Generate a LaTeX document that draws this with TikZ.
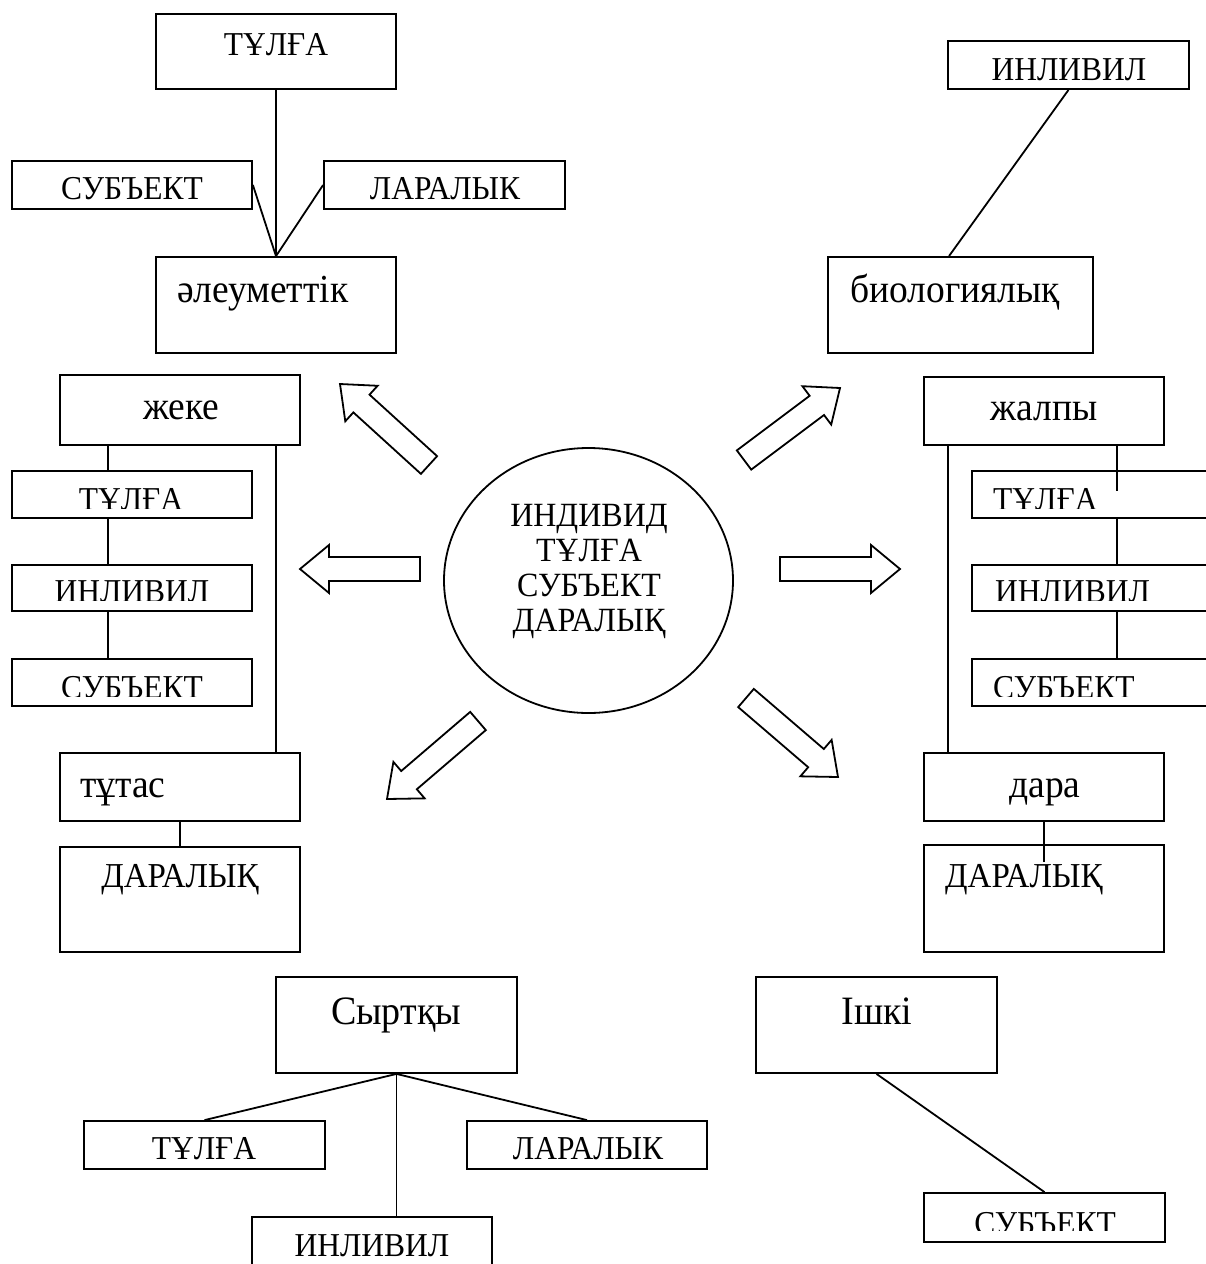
\documentclass[tikz,border=0pt]{standalone}
\usepackage{fontspec}
\usepackage{graphicx}
\setmainfont{Liberation Serif}
\usetikzlibrary{shapes.geometric,calc}
\newcommand{\tx}[1]{\scalebox{1}[1.06]{#1}}
\tikzset{
  box/.style={draw, line width=1.8pt, inner sep=0pt, rectangle},
  lbl/.style={inner sep=0pt, anchor=base, font=\fontsize{31.5}{38}\selectfont},
  caplbl/.style={inner sep=0pt, anchor=base, font=\fontsize{33}{40}\selectfont},
  ctrlbl/.style={inner sep=0pt, anchor=base, font=\fontsize{32}{40}\selectfont},
  lowlbl/.style={inner sep=0pt, anchor=base, font=\fontsize{37.5}{45}\selectfont},
  hugelbl/.style={inner sep=0pt, anchor=base, font=\fontsize{38}{46}\selectfont},
  conn/.style={line width=1.8pt},
  blk/.style={draw, line width=1.8pt, fill=white, line join=miter}
}
\newcommand{\blockarr}[2]{%
  \coordinate (hb) at ($(#2)!29pt!(#1)$);
  \draw[blk] ($(#1)!12pt!90:(#2)$) -- ($(hb)!12pt!-90:(#1)$) -- ($(hb)!24pt!-90:(#1)$)
    -- (#2) -- ($(hb)!24pt!90:(#1)$) -- ($(hb)!12pt!90:(#1)$) -- ($(#1)!12pt!-90:(#2)$) -- cycle;}
\begin{document}
\begin{tikzpicture}[x=1pt,y=-1pt]
\path[use as bounding box, fill=white] (0,0) rectangle (1206,1264);
\begin{scope}
\clip (0,0) rectangle (1206,1264);

% ---- top-left group
\node[box,minimum width=240pt,minimum height=75pt] (tA) at (276,51.5) {};
\node[lbl] (tAt) at (276,55) {\tx{ТҰЛҒА}};
\node[box,minimum width=240pt,minimum height=48pt] (sA) at (132,185) {};
\node[lbl] (sAt) at (132,199) {\tx{СУБЪЕКТ}};
\node[box,minimum width=241pt,minimum height=48pt] (dA) at (444.5,185) {};
\node[lbl] (dAt) at (445,199) {\tx{ЛАРАЛЫК}};
\node[box,minimum width=240pt,minimum height=96pt] (eA) at (276,305) {};
\node[lowlbl,anchor=base west] (eAt) at (177,302) {\tx{әлеуметтік}};
\draw[conn] (tA.south) -- (eA.north);
\draw[conn] (sA.east) -- (eA.north);
\draw[conn] (dA.west) -- (eA.north);

% ---- top-right group
\node[box,minimum width=241pt,minimum height=48pt] (iB) at (1068.5,65) {};
\node[lbl] (iBt) at (1069,80) {\tx{ИНЛИВИЛ}};
\node[box,minimum width=265pt,minimum height=96pt] (bB) at (960.5,305) {};
\node[lowlbl,anchor=base west] (bBt) at (850,302) {\tx{биологиялық}};
\draw[conn] (iB.south) -- ([xshift=-11.5pt]bB.north);

% ---- left stack
\coordinate (xL) at (108,0);
\coordinate (xL2) at (276,0);
\node[box,minimum width=240pt,minimum height=70pt] (zh) at (180,410) {};
\node[lowlbl] (zht) at (181,419) {\tx{жеке}};
\node[box,minimum width=240pt,minimum height=47pt] (lt1) at (132,494.5) {};
\node[box,minimum width=240pt,minimum height=46pt] (li1) at (132,588) {};
\node[box,minimum width=240pt,minimum height=47pt] (ls1) at (132,682.5) {};
\begin{scope}\clip (12,471) rectangle (252,508);\node[lbl] (lt1t) at (131,510) {\tx{ТҰЛҒА}};\end{scope}
\begin{scope}\clip (12,565) rectangle (252,600);\node[lbl] (li1t) at (132,602) {\tx{ИНЛИВИЛ}};\end{scope}
\begin{scope}\clip (12,659) rectangle (252,696);\node[lbl] (ls1t) at (132,698) {\tx{СУБЪЕКТ}};\end{scope}
\draw[conn] (zh.south -| xL) -- (lt1.north -| xL);
\draw[conn] (lt1.south -| xL) -- (li1.north -| xL);
\draw[conn] (li1.south -| xL) -- (ls1.north -| xL);
\node[box,minimum width=240pt,minimum height=68pt] (tt) at (180,787) {};
\node[lowlbl,anchor=base west] (ttt) at (80,797) {\tx{тұтас}};
\node[box,minimum width=240pt,minimum height=105pt] (ld) at (180,899.5) {};
\node[caplbl] (ldt) at (180,887) {\tx{ДАРАЛЫҚ}};
\draw[conn] (zh.south -| xL2) -- (tt.north -| xL2);
\draw[conn] (tt.south) -- (ld.north);

% ---- right stack
\coordinate (xR) at (1117,0);
\coordinate (xR2) at (948,0);
\node[box,minimum width=240pt,minimum height=68pt] (jp) at (1044,411) {};
\node[lowlbl] (jpt) at (1044,420) {\tx{жалпы}};
\node[box,minimum width=260pt,minimum height=47pt] (rt1) at (1102,494.5) {};
\node[box,minimum width=260pt,minimum height=46pt] (ri1) at (1102,588) {};
\node[box,minimum width=260pt,minimum height=47pt] (rs1) at (1102,682.5) {};
\begin{scope}\clip (972,471) rectangle (1206,508);\node[lbl,anchor=base west] (rt1t) at (993,510) {\tx{ТҰЛҒА}};\end{scope}
\begin{scope}\clip (972,565) rectangle (1206,600);\node[lbl,anchor=base west] (ri1t) at (995,602) {\tx{ИНЛИВИЛ}};\end{scope}
\begin{scope}\clip (972,659) rectangle (1206,696);\node[lbl,anchor=base west] (rs1t) at (993,698) {\tx{СУБЪЕКТ}};\end{scope}
\coordinate (jpEnd) at (1117,491);
\draw[conn] (jp.south -| xR) -- (jpEnd);
\draw[conn] (rt1.south -| xR) -- (ri1.north -| xR);
\draw[conn] (ri1.south -| xR) -- (rs1.north -| xR);
\node[box,minimum width=240pt,minimum height=68pt] (dr) at (1044,787) {};
\node[lowlbl] (drt) at (1045,797) {\tx{дара}};
\node[box,minimum width=240pt,minimum height=107pt] (rd) at (1044,898.5) {};
\node[caplbl,anchor=base west] (rdt) at (945,887) {\tx{ДАРАЛЫҚ}};
\draw[conn] (jp.south -| xR2) -- (dr.north -| xR2);
\coordinate (drEnd) at (1044,862);
\draw[conn] (dr.south) -- (drEnd);

% ---- bottom groups
\node[box,minimum width=241pt,minimum height=96pt] (sy) at (396.5,1025) {};
\node[hugelbl] (syt) at (396,1024) {\tx{Сыртқы}};
\node[box,minimum width=241pt,minimum height=48pt] (bt) at (204.5,1145) {};
\node[lbl] (btt) at (204,1159) {\tx{ТҰЛҒА}};
\node[box,minimum width=240pt,minimum height=48pt] (bd) at (587,1145) {};
\node[lbl] (bdt) at (588,1159) {\tx{ЛАРАЛЫК}};
\node[box,minimum width=240pt,minimum height=70pt] (bi) at (372,1252) {};
\node[lbl] (bit) at (372,1256) {\tx{ИНЛИВИЛ}};
\draw[conn] (sy.south) -- (bt.north);
\draw[conn] (sy.south) -- (bd.north);
\draw[conn] (sy.south) -- (sy.south |- bi.north);
\node[box,minimum width=241pt,minimum height=96pt] (ik) at (876.5,1025) {};
\node[hugelbl] (ikt) at (877,1024) {\tx{Ішкі}};
\node[box,minimum width=241pt,minimum height=49pt] (bs) at (1044.5,1217.5) {};
\begin{scope}\clip (924,1193) rectangle (1165,1230);\node[lbl] (bst) at (1045,1234) {\tx{СУБЪЕКТ}};\end{scope}
\draw[conn] (ik.south) -- (bs.north);

% ---- centre
\node[draw,ellipse,line width=1.8pt,minimum width=289pt,minimum height=265pt,inner sep=0pt] (c) at (588.5,580.5) {};
\node[ctrlbl] (c1) at (589,526) {\tx{ИНДИВИД}};
\node[ctrlbl] (c2) at (589,561) {\tx{ТҰЛҒА}};
\node[ctrlbl] (c3) at (589,596) {\tx{СУБЪЕКТ}};
\node[ctrlbl] (c4) at (589,631) {\tx{ДАРАЛЫҚ}};

% ---- block arrows
\coordinate (a1t) at (429,465); \coordinate (a1p) at (340,384);
\coordinate (a2t) at (744,460); \coordinate (a2p) at (840,388);
\coordinate (a3t) at (420,569); \coordinate (a3p) at (300,569);
\coordinate (a4t) at (780,569); \coordinate (a4p) at (900,569);
\coordinate (a5t) at (478,721); \coordinate (a5p) at (387,799);
\coordinate (a6t) at (746,698); \coordinate (a6p) at (838,777);
\blockarr{a1t}{a1p}
\blockarr{a2t}{a2p}
\blockarr{a3t}{a3p}
\blockarr{a4t}{a4p}
\blockarr{a5t}{a5p}
\blockarr{a6t}{a6p}
\end{scope}
\end{tikzpicture}
\end{document}
